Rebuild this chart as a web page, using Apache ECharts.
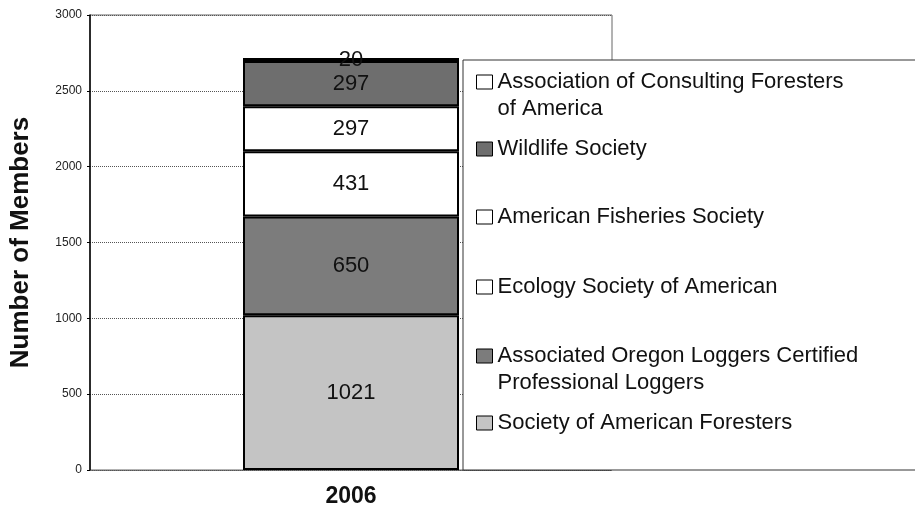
<!DOCTYPE html>
<html>
<head>
<meta charset="utf-8">
<script src="https://cdn.jsdelivr.net/npm/echarts@6/dist/echarts.min.js"></script>
<style>
  html, body { margin: 0; background: #fff; }
  #chart { width: 915px; height: 520px; }
</style>
</head>
<body>
<div id="chart"></div>
<script>
// data, bottom of the stack first
var years = ['2006']
var societies = [
  'Society of American Foresters',
  'Associated Oregon Loggers Certified\nProfessional Loggers',
  'Ecology Society of American',
  'American Fisheries Society',
  'Wildlife Society',
  'Association of Consulting Foresters\nof America'
]
var members = [1021, 650, 431, 297, 297, 20]
var yMax = 3000
var yStep = 500

var fills = ['#c4c4c4', '#7c7c7c', '#ffffff', '#ffffff', '#6e6e6e', '#ffffff']
// icon centre of each legend entry (pixels)
var legendCentres = [423, 356, 287, 217, 149, 82]

var chart = echarts.init(document.getElementById('chart'))
var font = '"Liberation Sans", Arial, sans-serif'

var series = societies.map(function (name, i) {
  return {
    name: name,
    type: 'bar',
    stack: 'total',
    barWidth: 216,
    data: [members[i]],
    itemStyle: { color: fills[i], borderColor: '#000', borderWidth: 2 },
    label: {
      show: true,
      position: 'inside',
      color: '#111',
      fontSize: 22,
      fontFamily: font
    }
  }
})

var legends = societies.map(function (name, i) {
  var twoLines = name.indexOf('\n') >= 0
  return {
    data: [name],
    orient: 'vertical',
    left: 476,
    top: legendCentres[i] - (twoLines ? 40.5 : 13.5),
    padding: 0,
    icon: 'rect',
    itemWidth: 16,
    itemHeight: 14,
    itemGap: 0,
    z: 20,
    selectedMode: false,
    // an empty first line keeps the icon level with the first text line
    formatter: function (n) { return twoLines ? '\n' + n : n },
    itemStyle: { borderColor: '#000', borderWidth: 1 },
    textStyle: {
      fontSize: 22,
      lineHeight: 27,
      color: '#111',
      fontFamily: font
    }
  }
})

chart.setOption({
  animation: false,
  grid: {
    left: 89, top: 15, right: 303, bottom: 50,
    show: true, borderColor: '#666', borderWidth: 1
  },
  legend: legends,
  graphic: [{
    type: 'rect',
    z: 10,
    shape: { x: 463, y: 60, width: 470, height: 410 },
    style: { fill: '#fff', stroke: '#333', lineWidth: 1 }
  }],
  xAxis: {
    type: 'category',
    data: years,
    axisLine: { lineStyle: { color: '#555', type: 'dotted' } },
    axisTick: { show: false },
    axisLabel: {
      margin: 15, fontSize: 23, fontWeight: 'bold', color: '#111', fontFamily: font
    }
  },
  yAxis: {
    type: 'value',
    min: 0,
    max: yMax,
    interval: yStep,
    name: 'Number of Members',
    nameLocation: 'middle',
    nameGap: 56,
    nameTextStyle: { fontSize: 26, fontWeight: 'bold', color: '#111', fontFamily: font },
    axisLine: { show: true, lineStyle: { color: '#000', width: 1.5 } },
    axisTick: { show: true, length: 3, lineStyle: { color: '#000' } },
    axisLabel: {
      margin: 8, fontSize: 12, color: '#222', fontFamily: font,
      formatter: function (v) { return String(v) }
    },
    splitLine: { lineStyle: { color: '#555', type: 'dotted' } }
  },
  series: series
})
</script>
</body>
</html>
